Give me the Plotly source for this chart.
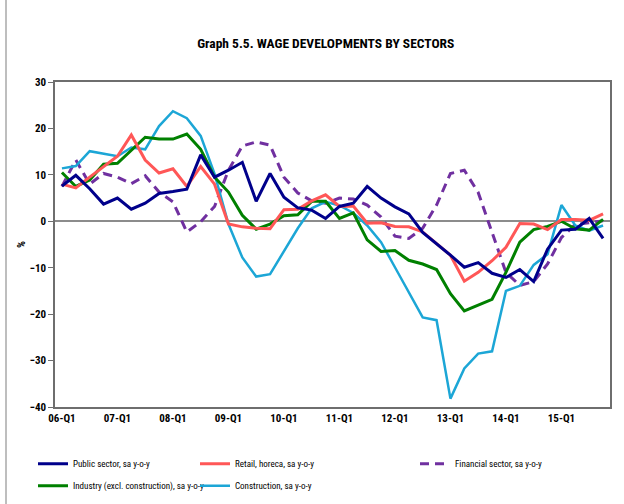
import plotly.graph_objects as go

quarters = [f"{y:02d}-Q{q}" for y in range(6, 16) for q in range(1, 5)]
tick_labels = ["06-Q1", "07-Q1", "08-Q1", "09-Q1", "10-Q1", "11-Q1", "12-Q1", "13-Q1", "14-Q1", "15-Q1"]

public_sector = [7.6, 9.9, 7.0, 3.7, 5.0, 2.6, 3.9, 6.0, 6.4, 6.9, 14.3, 9.5, 11.0, 12.7, 4.3, 10.3, 5.2, 2.9, 2.4, 0.6,
                 3.2, 3.9, 7.5, 5.0, 3.1, 1.6, -2.4, -4.8, -7.3, -9.9, -8.9, -11.2, -12.1, -10.4, -13.0, -6.0, -1.9, -1.7, 0.6, -3.7]
retail_horeca = [8.0, 7.2, 9.5, 11.8, 14.0, 18.6, 13.2, 10.4, 11.3, 7.5, 11.8, 8.0, -0.6, -1.2, -1.5, -1.6, 2.5, 2.6, 4.4, 5.7,
                 3.2, 3.3, -0.4, -0.3, -1.1, -1.2, -2.3, -4.8, -7.3, -12.9, -11.0, -8.5, -5.6, -0.5, -0.6, -1.8, 0.4, 0.4, 0.2, 1.6]
financial = [7.5, 13.2, 8.0, 10.3, 9.5, 8.1, 9.8, 6.3, 4.2, -2.3, -0.1, 3.2, 11.0, 16.2, 17.1, 16.4, 9.5, 6.1, 4.4, 3.9,
             5.0, 4.8, 3.5, 0.9, -3.2, -3.7, -1.5, 3.5, 10.3, 11.0, 6.2, -2.6, -11.0, -13.8, -13.0, -9.2, -3.5, -0.7, -0.3, 0.1]
industry = [10.5, 7.5, 8.9, 12.3, 12.5, 15.4, 18.1, 17.7, 17.7, 18.8, 15.5, 9.5, 6.3, 1.3, -1.7, -0.6, 1.2, 1.4, 4.3, 4.3,
            0.6, 1.8, -4.0, -6.5, -6.3, -8.4, -9.2, -10.4, -15.6, -19.3, -18.0, -16.8, -11.0, -4.5, -1.8, -1.1, 0.0, -1.6, -1.9, 0.4]
construction = [11.4, 11.9, 15.1, 14.6, 14.0, 15.9, 15.5, 20.5, 23.7, 22.2, 18.4, 10.2, -0.6, -7.8, -11.9, -11.4, -6.5, -1.5, 2.8, 4.2,
                3.4, 1.8, -0.9, -4.5, -9.9, -15.3, -20.7, -21.3, -38.2, -31.7, -28.5, -28.0, -15.0, -13.9, -9.4, -7.1, 3.5, -0.9, -2.0, -0.9]

FONT = "Liberation Sans Narrow, Arial Narrow, Roboto Condensed, sans-serif"

series = [
    ("Public sector, sa y-o-y", public_sector, "#00008B", "solid", 3, "legend"),
    ("Industry (excl. construction), sa y-o-y", industry, "#008000", "solid", 3, "legend"),
    ("Retail, horeca, sa y-o-y", retail_horeca, "#FF5757", "solid", 3, "legend2"),
    ("Construction, sa y-o-y", construction, "#1CA6D6", "solid", 2.5, "legend2"),
    ("Financial sector, sa y-o-y", financial, "#7030A0", "dash", 3, "legend3"),
]

fig = go.Figure()
draw_order = [4, 3, 1, 2, 0]
for k in draw_order:
    name, vals, col, dash, w, lg = series[k]
    fig.add_trace(go.Scatter(
        x=list(range(len(quarters))), y=vals, mode="lines", name=name,
        line=dict(color=col, width=w, dash=dash if dash == "solid" else "9px,6px"),
        legend=lg, legendrank=k, legendgroup=name,
    ))

legend_common = dict(
    orientation="v", bgcolor="rgba(0,0,0,0)", traceorder="grouped", tracegroupgap=3,
    font=dict(family=FONT, size=9, color="#000000"), yanchor="top", xanchor="left",
    itemwidth=30,
)

PW = 555.0
def px_x(px):
    return (px - 55) / PW

fig.update_layout(
    width=624, height=504,
    paper_bgcolor="white", plot_bgcolor="white",
    margin=dict(l=55, r=14, t=82, b=97, autoexpand=False),
    font=dict(family=FONT, color="#000000"),
    title=dict(text="<b>Graph 5.5. WAGE DEVELOPMENTS BY SECTORS</b>", x=0.522, xanchor="center",
               y=1 - 43 / 504, yanchor="middle", yref="container",
               font=dict(family=FONT, size=13.5, color="#000000")),
    xaxis=dict(range=[-0.5, 39.5], tickmode="array", tickvals=list(range(0, 40, 4)), ticktext=tick_labels,
               showgrid=False, zeroline=False, showline=True, mirror=True, linecolor="#6E6E6E", linewidth=1.5,
               ticks="", tickfont=dict(family=FONT, size=11, color="#000000", weight="bold")),
    yaxis=dict(range=[-40, 30], dtick=10, showgrid=False, zeroline=True, zerolinecolor="#8C8C8C", zerolinewidth=1.5,
               showline=True, mirror=True, linecolor="#6E6E6E", linewidth=1.5,
               ticks="outside", ticklen=5, tickcolor="#6E6E6E",
               tickfont=dict(family=FONT, size=11, color="#000000", weight="bold"),
               title=dict(text="<b>%</b>", font=dict(family=FONT, size=11), standoff=2)),
    legend=dict(x=px_x(33), y=-0.13, **legend_common),
    legend2=dict(x=px_x(195), y=-0.13, **legend_common),
    legend3=dict(x=px_x(415), y=-0.13, **legend_common),
    shapes=[dict(type="line", xref="paper", yref="paper", x0=px_x(6), x1=px_x(6), y0=-0.3, y1=1.26,
                 line=dict(color="#BEBEBE", width=2))],
)

fig.write_html("out.html", config={"displayModeBar": False},
               post_script="document.body.style.margin='0';document.body.style.overflow='hidden';")
